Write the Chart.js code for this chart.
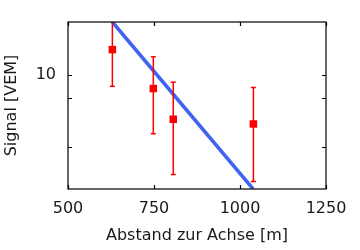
<!DOCTYPE html>
<html>
<head>
<meta charset="utf-8">
<script src="https://cdn.jsdelivr.net/npm/chart.js@4"></script>
<style>
  html, body { margin: 0; padding: 0; background: #fff; }
  #wrap { width: 360px; height: 250px; }
</style>
</head>
<body>
<div id="wrap"><canvas id="chart" width="360" height="250"></canvas></div>
<script>
// values
var distances = [629, 748, 806, 1039];
var signal = [12.8, 8.8, 6.55, 6.26];
var errHigh = [17.5, 11.96, 9.35, 8.9];
var errLow = [9.0, 5.7, 3.85, 3.6];
var fitX = [629, 1038];
var fitY = [16.7, 3.35];
var xTicks = [500, 750, 1000, 1250];
var yTicks = [5, 8, 10];

var textColor = "#1a1a1a";
var font = { family: "DejaVu Sans", size: 16, lineHeight: 1.2 };

var frame = {
    id: "frame",
    afterDatasetsDraw: function (chart) {
        var ctx = chart.ctx;
        var a = chart.chartArea;
        var xs = chart.scales.x, ys = chart.scales.y;
        // error bars
        ctx.save();
        ctx.beginPath();
        ctx.rect(a.left, a.top, a.right - a.left, a.bottom - a.top);
        ctx.clip();
        ctx.strokeStyle = "#ff0000";
        ctx.lineWidth = 1.5;
        for (var i = 0; i < distances.length; i++) {
            var px = xs.getPixelForValue(distances[i]);
            var hi = ys.getPixelForValue(errHigh[i]);
            var lo = ys.getPixelForValue(errLow[i]);
            ctx.beginPath();
            ctx.moveTo(px, hi); ctx.lineTo(px, lo);
            ctx.moveTo(px - 2.5, hi); ctx.lineTo(px + 2.5, hi);
            ctx.moveTo(px - 2.5, lo); ctx.lineTo(px + 2.5, lo);
            ctx.stroke();
        }
        ctx.restore();
    },
    afterDraw: function (chart) {
        var ctx = chart.ctx;
        var a = chart.chartArea;
        var xs = chart.scales.x, ys = chart.scales.y;
        ctx.save();
        ctx.strokeStyle = "#000";
        ctx.lineWidth = 1.2;
        ctx.strokeRect(a.left, a.top, a.right - a.left, a.bottom - a.top);
        ctx.beginPath();
        xTicks.forEach(function (v) {
            var p = Math.round(xs.getPixelForValue(v)) + 0.5;
            ctx.moveTo(p, a.bottom); ctx.lineTo(p, a.bottom - 4);
            ctx.moveTo(p, a.top); ctx.lineTo(p, a.top + 4);
        });
        yTicks.forEach(function (v) {
            var p = Math.round(ys.getPixelForValue(v)) + 0.5;
            ctx.moveTo(a.left, p); ctx.lineTo(a.left + 4, p);
            ctx.moveTo(a.right, p); ctx.lineTo(a.right - 4, p);
        });
        ctx.stroke();
        ctx.restore();
    }
};

var chart = new Chart(document.getElementById("chart"), {
    type: "scatter",
    data: {
        datasets: [{
            type: "line",
            data: fitX.map(function (x, i) { return { x: x, y: fitY[i] }; }),
            borderColor: "#4064f0",
            borderWidth: 3.6,
            pointRadius: 0,
            fill: false
        }, {
            data: distances.map(function (x, i) { return { x: x, y: signal[i] }; }),
            backgroundColor: "#ff0000",
            borderWidth: 0,
            pointStyle: "rect",
            pointRadius: 5.3
        }]
    },
    options: {
        responsive: false,
        animation: false,
        events: [],
        layout: { padding: { top: 22, right: 34, left: 0, bottom: 0 } },
        plugins: { legend: { display: false }, tooltip: { enabled: false } },
        scales: {
            x: {
                type: "linear",
                min: 500,
                max: 1250,
                afterBuildTicks: function (s) { s.ticks = xTicks.map(function (v) { return { value: v }; }); },
                afterFit: function (s) { s.height = 61; },
                grid: { display: false },
                border: { display: false },
                ticks: {
                    color: textColor, font: font, padding: 2, maxRotation: 0,
                    callback: function (v) { return String(v); }
                },
                title: { display: true, text: "Abstand zur Achse [m]", color: textColor, font: font, padding: { top: 0, bottom: 5 } }
            },
            y: {
                type: "logarithmic",
                min: 3.347,
                max: 16.7,
                afterBuildTicks: function (s) { s.ticks = yTicks.map(function (v) { return { value: v }; }); },
                afterFit: function (s) { s.width = 68; },
                grid: { display: false },
                border: { display: false },
                ticks: {
                    color: textColor, font: font, padding: 4,
                    callback: function (v) { return v === 10 ? "10" : ""; }
                },
                title: { display: true, text: "Signal [VEM]", color: textColor, font: font, padding: { top: 2, bottom: 0 } }
            }
        }
    },
    plugins: [frame]
});
</script>
</body>
</html>
